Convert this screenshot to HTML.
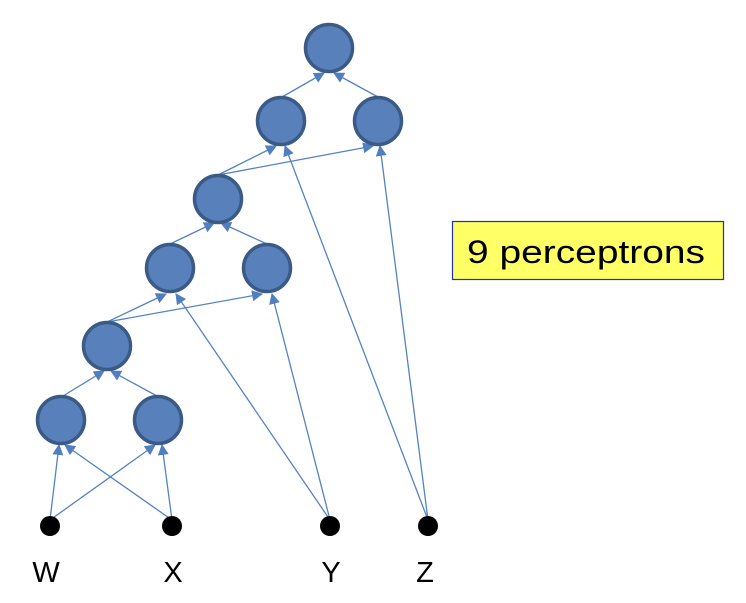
<!DOCTYPE html>
<html><head><meta charset="utf-8"><style>html,body{margin:0;padding:0;background:#fff}</style></head>
<body>
<svg width="746" height="598" viewBox="0 0 746 598" xmlns="http://www.w3.org/2000/svg">
<defs>
<marker id="a" viewBox="0 0 10 10" refX="9" refY="5" markerWidth="11" markerHeight="11" markerUnits="userSpaceOnUse" orient="auto">
<path d="M0,0 L10,5 L0,10 z" fill="#4f7fc0"/>
</marker>
</defs>
<g stroke="#5582c2" stroke-width="1.3" fill="none" marker-end="url(#a)">
<line x1="50" y1="520" x2="59" y2="445"/>
<line x1="50" y1="520" x2="155" y2="445"/>
<line x1="172" y1="520" x2="65" y2="445"/>
<line x1="172" y1="520" x2="162" y2="445"/>
<line x1="63" y1="396" x2="104" y2="371"/>
<line x1="157" y1="396" x2="111" y2="371"/>
<line x1="107" y1="322" x2="166" y2="294"/>
<line x1="107" y1="322" x2="262" y2="294"/>
<line x1="330" y1="520" x2="176" y2="294"/>
<line x1="330" y1="520" x2="272" y2="294"/>
<line x1="170" y1="244" x2="214" y2="223"/>
<line x1="267" y1="244" x2="221" y2="223"/>
<line x1="218" y1="175" x2="276" y2="146"/>
<line x1="218" y1="175" x2="373" y2="146"/>
<line x1="428" y1="520" x2="285" y2="146"/>
<line x1="428" y1="520" x2="380" y2="146"/>
<line x1="282" y1="97" x2="324" y2="73"/>
<line x1="378" y1="97" x2="334" y2="73"/>
</g>
<g fill="#5881bb" stroke="#3b5a86" stroke-width="3.5">
<circle cx="329" cy="48" r="23.5"/>
<circle cx="281" cy="121" r="23.5"/>
<circle cx="378" cy="121" r="23.5"/>
<circle cx="218" cy="199" r="23.5"/>
<circle cx="170" cy="268" r="23.5"/>
<circle cx="267" cy="268" r="23.5"/>
<circle cx="107" cy="346" r="23.5"/>
<circle cx="61" cy="420" r="23.5"/>
<circle cx="158" cy="420" r="23.5"/>
</g>
<g fill="#000">
<circle cx="50" cy="526" r="10"/>
<circle cx="172" cy="526" r="10"/>
<circle cx="330" cy="526" r="10"/>
<circle cx="428" cy="526" r="10"/>
</g>
<g font-family="Liberation Sans, sans-serif" font-size="29" fill="#000" text-anchor="middle">
<text x="46" y="582">W</text>
<text x="173" y="582">X</text>
<text x="331" y="582">Y</text>
<text x="425" y="582">Z</text>
</g>
<rect x="452.5" y="221.5" width="271" height="58" fill="#ffff66" stroke="#2233aa" stroke-width="1.2"/>
<text x="467" y="263" font-family="Liberation Sans, sans-serif" font-size="32" textLength="238" lengthAdjust="spacingAndGlyphs" fill="#000">9 perceptrons</text>
</svg>
</body></html>
